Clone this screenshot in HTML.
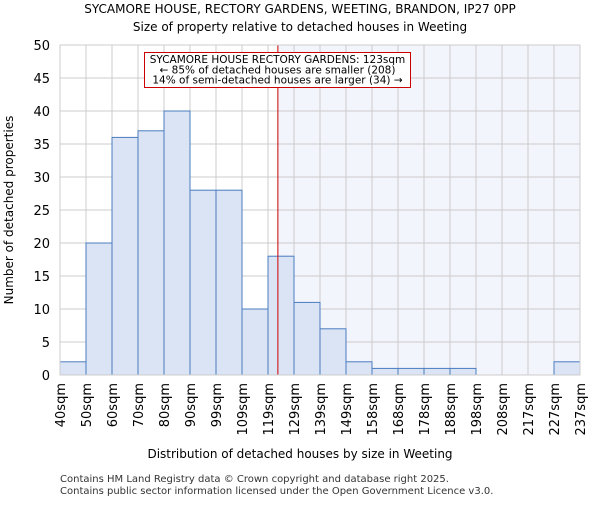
<!DOCTYPE html>
<html><head><meta charset="utf-8"><style>
body{margin:0;background:#fff;}
svg{font-family:"DejaVu Sans","Liberation Sans",sans-serif;}
</style></head><body>
<svg id="chart" width="600" height="500" xmlns="http://www.w3.org/2000/svg">
<text x="300" y="13" text-anchor="middle" font-size="12">SYCAMORE HOUSE, RECTORY GARDENS, WEETING, BRANDON, IP27 0PP</text>
<text x="300" y="31" text-anchor="middle" font-size="12">Size of property relative to detached houses in Weeting</text>
<g id="plot"></g>
<text x="300" y="458" text-anchor="middle" font-size="12">Distribution of detached houses by size in Weeting</text>
<text transform="translate(13,210) rotate(-90)" text-anchor="middle" font-size="12">Number of detached properties</text>
<text x="60" y="482" font-size="10" fill="#333">Contains HM Land Registry data © Crown copyright and database right 2025.</text>
<text x="60" y="494" font-size="10" fill="#333">Contains public sector information licensed under the Open Government Licence v3.0.</text>
</svg>
<script>
const binLabels=["40sqm","50sqm","60sqm","70sqm","80sqm","90sqm","99sqm","109sqm","119sqm","129sqm","139sqm","149sqm","158sqm","168sqm","178sqm","188sqm","198sqm","208sqm","217sqm","227sqm","237sqm"];
const counts=[2,20,36,37,40,28,28,10,18,11,7,2,1,1,1,1,0,0,0,2];
const yTicks=[0,5,10,15,20,25,30,35,40,45,50];
const markerBin=8.38;
const NS="http://www.w3.org/2000/svg";
const g=document.getElementById('plot');
const L=60,R=580,T=45,B=375,yMax=50;
const n=counts.length;
const xs=i=>L+(R-L)*i/n;
const ys=v=>B-(B-T)*v/yMax;
function el(t,a){const e=document.createElementNS(NS,t);for(const k in a)e.setAttribute(k,a[k]);g.appendChild(e);return e;}
const mx=xs(markerBin);
let e=el('rect',{x:mx,y:T,width:R-mx,height:B-T,fill:'#f3f5fc'});


yTicks.forEach(v=>{
 let l=el('line',{x1:L,x2:R,y1:ys(v),y2:ys(v),stroke:'#cccccc','stroke-width':1});
 
 
 let t=el('text',{x:L-10,y:ys(v)+5,'text-anchor':'end','font-size':13});
 t.textContent=v;
 
 
});
binLabels.forEach((s,i)=>{
 let l=el('line',{x1:xs(i),x2:xs(i),y1:T,y2:B,stroke:'#cccccc','stroke-width':1});
 
 
 let t=el('text',{transform:`translate(${xs(i)+5},${B+8}) rotate(-90)`,'text-anchor':'end','font-size':13});
 t.textContent=s;
 
 
});
counts.forEach((c,i)=>{
 let r=el('rect',{x:xs(i),y:ys(c),width:xs(i+1)-xs(i),height:B-ys(c),fill:'#dbe4f4',stroke:'#4a7cc0','stroke-width':1});
 
 
});
let ml=el('line',{x1:mx,x2:mx,y1:T,y2:B,stroke:'#cc0000','stroke-width':1});


let ax=el('rect',{x:L,y:T,width:R-L,height:B-T,fill:'none',stroke:'#cccccc'});


let bx=el('rect',{x:144.5,y:52.5,width:266,height:35,fill:'#fff',stroke:'#cc0000','stroke-width':1});


["SYCAMORE HOUSE RECTORY GARDENS: 123sqm","← 85% of detached houses are smaller (208)","14% of semi-detached houses are larger (34) →"].forEach((s,i)=>{
 let t=el('text',{x:277.5,y:63+i*10.3,'text-anchor':'middle','font-size':10.5});
 t.textContent=s;
 
 
});
</script>
</body></html>
